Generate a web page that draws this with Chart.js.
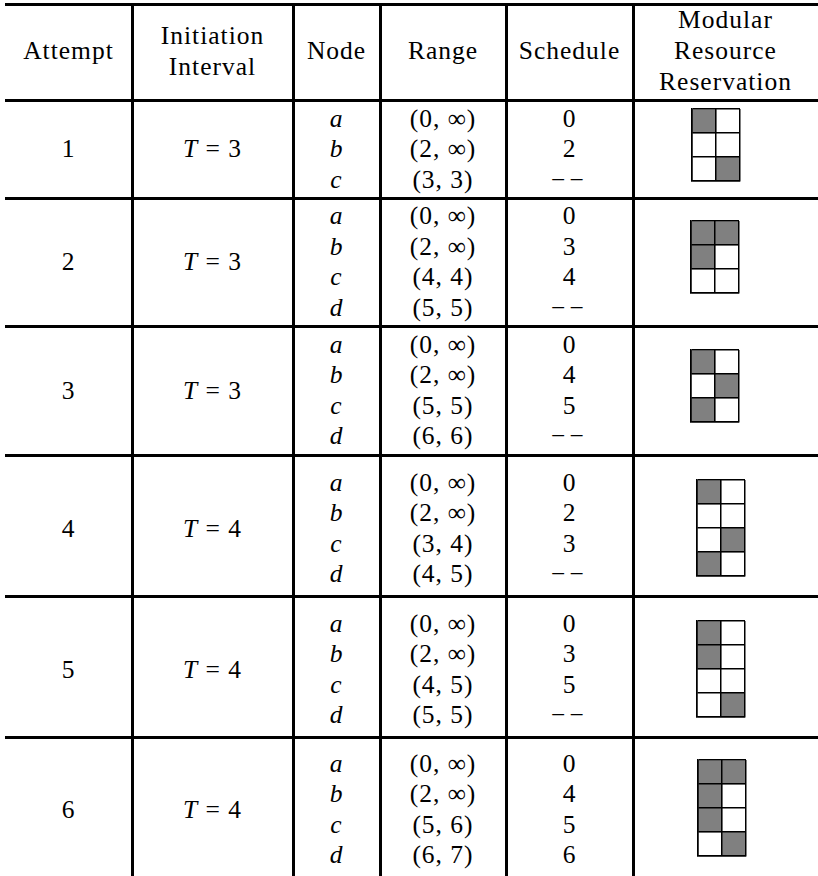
<!DOCTYPE html>
<html><head><meta charset="utf-8">
<script src="https://cdn.jsdelivr.net/npm/chart.js@4/dist/chart.umd.min.js"></script>
<style>
html,body{margin:0;padding:0;background:#fff;}
#wrap{position:relative;width:818px;height:876px;overflow:hidden;font-family:"Liberation Serif",serif;font-size:25.5px;color:#000;letter-spacing:1px;}
.t{position:absolute;text-align:center;white-space:nowrap;height:30px;line-height:30px;}
.hl{position:absolute;background:#000;height:3px;}
.vl{position:absolute;background:#000;width:3px;}
i{font-style:italic;}
canvas{position:absolute;}
</style></head><body><div id="wrap"></div>
<script>
// ---- data ----
const headers = [['Attempt'], ['Initiation', 'Interval'], ['Node'], ['Range'], ['Schedule'], ['Modular', 'Resource', 'Reservation']];
const attempts = ['1', '2', '3', '4', '5', '6'];
const intervals = [3, 3, 3, 4, 4, 4];
const nodes = [
  ['a', 'b', 'c'],
  ['a', 'b', 'c', 'd'],
  ['a', 'b', 'c', 'd'],
  ['a', 'b', 'c', 'd'],
  ['a', 'b', 'c', 'd'],
  ['a', 'b', 'c', 'd']
];
const ranges = [
  ['(0, ∞)', '(2, ∞)', '(3, 3)'],
  ['(0, ∞)', '(2, ∞)', '(4, 4)', '(5, 5)'],
  ['(0, ∞)', '(2, ∞)', '(5, 5)', '(6, 6)'],
  ['(0, ∞)', '(2, ∞)', '(3, 4)', '(4, 5)'],
  ['(0, ∞)', '(2, ∞)', '(4, 5)', '(5, 5)'],
  ['(0, ∞)', '(2, ∞)', '(5, 6)', '(6, 7)']
];
const schedules = [
  ['0', '2', '−−'],
  ['0', '3', '4', '−−'],
  ['0', '4', '5', '−−'],
  ['0', '2', '3', '−−'],
  ['0', '3', '5', '−−'],
  ['0', '4', '5', '6']
];
// reservation table: one entry per slot (row), [resource col 0, resource col 1]
const reservations = [
  [[1, 0], [0, 0], [0, 1]],
  [[1, 1], [1, 0], [0, 0]],
  [[1, 0], [0, 1], [1, 0]],
  [[1, 0], [0, 0], [0, 1], [1, 0]],
  [[1, 0], [1, 0], [0, 0], [0, 1]],
  [[1, 1], [1, 0], [1, 0], [0, 1]]
];

// ---- layout ----
const wrap = document.getElementById('wrap');
const colEdges = [5, 132, 293, 380, 506, 633, 818];
const rowLines = [4, 100, 198, 326, 455, 596, 737];
const rowBottom = 876;
const lineSp = 30.5;
const rowOffset = [0, 0, 0, 3, 3, 3];
const gridX = [692, 691, 691, 697, 697, 698];
const gridY = [109, 221, 350, 480, 621, 760];
const cell = 24;

function addText(html, col, cy) {
  const d = document.createElement('div');
  d.className = 't';
  const l = colEdges[col], r = colEdges[col + 1];
  d.style.left = l + 'px';
  d.style.width = (r - l) + 'px';
  d.style.top = (cy - 15) + 'px';
  d.innerHTML = html;
  wrap.appendChild(d);
}

// lines
rowLines.forEach(y => {
  const d = document.createElement('div');
  d.className = 'hl';
  d.style.left = '5px'; d.style.width = '813px';
  d.style.top = (y - 1.5) + 'px';
  wrap.appendChild(d);
});
colEdges.slice(1, 6).forEach(x => {
  const d = document.createElement('div');
  d.className = 'vl';
  d.style.left = (x - 1.5) + 'px';
  d.style.top = '3px'; d.style.height = '873px';
  wrap.appendChild(d);
});

// header
const hdrCenter = 51, hdrSp = 31;
headers.forEach((lines, c) => {
  lines.forEach((s, j) => addText(s, c, hdrCenter + (j - (lines.length - 1) / 2) * hdrSp));
});

// body rows
for (let i = 0; i < attempts.length; i++) {
  const top = rowLines[i + 1];
  const bot = i + 2 < rowLines.length ? rowLines[i + 2] : rowBottom;
  const mid = (top + bot) / 2 + rowOffset[i];
  addText(attempts[i], 0, mid);
  addText('<i>T</i> = ' + intervals[i], 1, mid);
  const n = nodes[i].length;
  for (let j = 0; j < n; j++) {
    const cy = mid + (j - (n - 1) / 2) * lineSp;
    addText('<i>' + nodes[i][j] + '</i>', 2, cy);
    addText(ranges[i][j], 3, cy);
    addText(schedules[i][j] === '−−' ? '<span style="letter-spacing:4px">−−</span>' : schedules[i][j], 4, cy);
  }
  makeGrid(i);
}

function makeGrid(i) {
  const res = reservations[i];
  const T = intervals[i];
  const pad = 2;
  const W = 2 * cell + 2 * pad, H = T * cell + 2 * pad;
  const cv = document.createElement('canvas');
  cv.width = W; cv.height = H;
  cv.style.width = W + 'px'; cv.style.height = H + 'px';
  cv.style.left = (gridX[i] - pad) + 'px';
  cv.style.top = (gridY[i] - pad) + 'px';
  wrap.appendChild(cv);
  const datasets = res.map((slot, k) => ({
    data: slot.map(v => v ? [k, k + 1] : null),
    backgroundColor: '#808080',
    borderWidth: 0,
    grouped: false,
    barPercentage: 1,
    categoryPercentage: 1
  }));
  new Chart(cv, {
    type: 'bar',
    data: { labels: ['0', '1'], datasets },
    options: {
      responsive: false,
      animation: false,
      devicePixelRatio: 1,
      events: [],
      layout: { padding: pad },
      plugins: { legend: { display: false }, tooltip: { enabled: false } },
      scales: {
        x: {
          type: 'category', offset: true,
          grid: { offset: true, color: '#000', lineWidth: 1.5, drawTicks: false, z: 1 },
          border: { display: true, color: '#000', width: 1.5, z: 1 },
          ticks: { display: false }
        },
        y: {
          type: 'linear', min: 0, max: T, reverse: true,
          grid: { color: '#000', lineWidth: 1.5, drawTicks: false, z: 1 },
          border: { display: true, color: '#000', width: 1.5, z: 1 },
          ticks: { display: false, stepSize: 1 }
        }
      }
    }
  });
}
</script></body></html>
